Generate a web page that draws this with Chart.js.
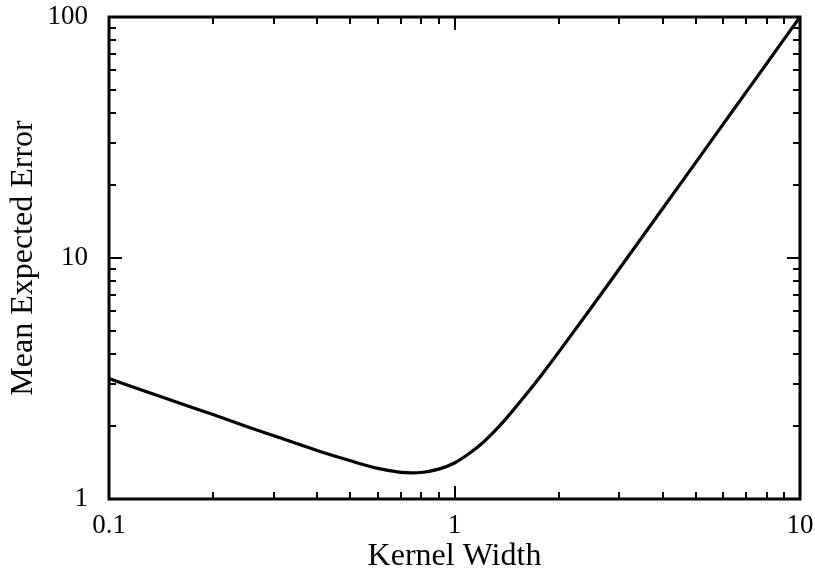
<!DOCTYPE html>
<html>
<head>
<meta charset="utf-8">
<script src="https://cdn.jsdelivr.net/npm/chart.js@4.4.1/dist/chart.umd.min.js"></script>
<style>
  html, body { margin: 0; padding: 0; background: #fff; }
  #wrap { width: 815px; height: 573px; }
</style>
</head>
<body>
<div id="wrap"><canvas id="error-chart" width="815" height="573"></canvas></div>
<script>
//#region Datos
var kernelWidth = [0.1, 0.15, 0.2, 0.25, 0.3, 0.4, 0.5, 0.6, 0.7, 0.75, 0.8, 0.9, 1.0, 1.1, 1.2, 1.3, 1.4, 1.6, 1.8, 2, 2.5, 3, 4, 5, 6, 7, 8, 10];
var meanError = [3.16, 2.58, 2.24, 2.0, 1.83, 1.59, 1.44, 1.34, 1.29, 1.284, 1.288, 1.33, 1.41, 1.54, 1.70, 1.90, 2.13, 2.68, 3.32, 4.06, 6.28, 9.02, 16.0, 25.0, 36.0, 49.0, 64.0, 100];

var xMajorTicks = [0.1, 1, 10];
var xMinorTicks = [0.2, 0.3, 0.4, 0.5, 0.6, 0.7, 0.8, 0.9, 2, 3, 4, 5, 6, 7, 8, 9];
var yMajorTicks = [1, 10, 100];
var yMinorTicks = [2, 3, 4, 5, 6, 7, 8, 9, 20, 30, 40, 50, 60, 70, 80, 90];
//#endregion

var serif = "'Liberation Serif', 'DejaVu Serif', serif";

// marco y ticks hacia adentro en los cuatro lados
var frameTicks = {
    id: 'frameTicks',
    afterDatasetsDraw(chart) {
        var ctx = chart.ctx;
        var a = chart.chartArea;
        var xs = chart.scales.x;
        var ys = chart.scales.y;
        ctx.save();
        ctx.strokeStyle = '#000';
        ctx.lineWidth = 2;
        ctx.beginPath();
        function xTick(v, len) {
            var px = Math.round(xs.getPixelForValue(v));
            ctx.moveTo(px, a.bottom); ctx.lineTo(px, a.bottom - len);
            ctx.moveTo(px, a.top); ctx.lineTo(px, a.top + len);
        }
        function yTick(v, len) {
            var py = Math.round(ys.getPixelForValue(v));
            ctx.moveTo(a.left, py); ctx.lineTo(a.left + len, py);
            ctx.moveTo(a.right, py); ctx.lineTo(a.right - len, py);
        }
        xMajorTicks.forEach(v => xTick(v, 13));
        xMinorTicks.forEach(v => xTick(v, 7));
        yMajorTicks.forEach(v => yTick(v, 13));
        yMinorTicks.forEach(v => yTick(v, 7));
        ctx.stroke();
        ctx.lineWidth = 3;
        ctx.strokeRect(a.left, a.top, a.right - a.left, a.bottom - a.top);
        ctx.restore();
    }
};

// sin relleno extra de las etiquetas: el area la fija layout.padding
function noLabelPadding(scale) {
    scale.paddingTop = 0;
    scale.paddingBottom = 0;
    scale.paddingLeft = 0;
    scale.paddingRight = 0;
}

var chartCtx = document.querySelector('#error-chart').getContext('2d');
var errorChart = new Chart(chartCtx, {
    type: 'line',
    data: {
        datasets: [{
            data: kernelWidth.map((k, i) => ({ x: k, y: meanError[i] })),
            borderColor: '#000',
            borderWidth: 3.2,
            pointRadius: 0,
            fill: false,
            cubicInterpolationMode: 'monotone'
        }]
    },
    options: {
        responsive: false,
        animation: false,
        layout: { padding: { left: 0, right: 15, top: 17, bottom: 0 } },
        plugins: {
            legend: { display: false },
            tooltip: { enabled: false }
        },
        scales: {
            x: {
                type: 'logarithmic',
                min: 0.1,
                max: 10,
                afterFit: function (scale) { scale.height = 74; noLabelPadding(scale); },
                afterBuildTicks: function (scale) {
                    scale.ticks = xMajorTicks.map(v => ({ value: v, major: true }));
                },
                grid: { display: false },
                border: { display: false },
                ticks: {
                    color: '#000',
                    padding: 3,
                    maxRotation: 0,
                    autoSkip: false,
                    font: { family: serif, size: 27 },
                    callback: function (v) { return String(v); }
                },
                title: {
                    display: true,
                    text: 'Kernel Width',
                    color: '#000',
                    font: { family: serif, size: 32, lineHeight: 1 },
                    padding: { top: 0, bottom: 0 }
                }
            },
            y: {
                type: 'logarithmic',
                min: 1,
                max: 100,
                afterFit: function (scale) { scale.width = 109; noLabelPadding(scale); },
                afterBuildTicks: function (scale) {
                    scale.ticks = yMajorTicks.map(v => ({ value: v, major: true }));
                },
                grid: { display: false },
                border: { display: false },
                ticks: {
                    color: '#000',
                    padding: 13,
                    autoSkip: false,
                    font: { family: serif, size: 27 },
                    callback: function (v) { return String(v); }
                },
                title: {
                    display: true,
                    text: 'Mean Expected Error',
                    color: '#000',
                    font: { family: serif, size: 32, lineHeight: 1 },
                    padding: { top: 8, bottom: 0 }
                }
            }
        }
    },
    plugins: [frameTicks]
});
</script>
</body>
</html>
